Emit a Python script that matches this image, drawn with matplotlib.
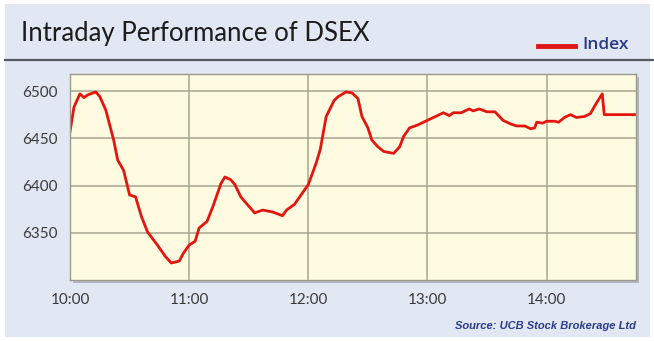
import matplotlib
matplotlib.use("Agg")
import matplotlib.pyplot as plt
from matplotlib.patches import Rectangle
import matplotlib.lines as mlines

times = ["10:00","10:02","10:05","10:07","10:09","10:13","10:15","10:18","10:22","10:24",
         "10:27","10:30","10:33","10:36","10:39","10:44","10:48","10:51","10:55","10:57",
         "11:00","11:03","11:05","11:09","11:12","11:16","11:18","11:21","11:23","11:26",
         "11:28","11:33","11:37","11:42","11:47","11:49","11:53","11:57","12:00","12:04",
         "12:06","12:09","12:13","12:15","12:19","12:22","12:25","12:27","12:30","12:32",
         "12:35","12:38","12:43","12:46","12:48","12:51","12:55","13:00","13:04","13:08",
         "13:11","13:13","13:17","13:21","13:23","13:26","13:30","13:34","13:38","13:42",
         "13:45","13:49","13:52","13:54","13:55","13:58","14:00","14:04","14:06","14:09",
         "14:12","14:15","14:19","14:22","14:25","14:28","14:29","14:45"]
index_values = [6457,6483,6497,6493,6496,6499,6494,6480,6448,6427,
                6416,6390,6388,6367,6351,6337,6325,6318,6320,6328,
                6337,6341,6355,6362,6378,6402,6409,6406,6401,6388,
                6383,6371,6374,6372,6368,6374,6380,6392,6401,6424,
                6438,6473,6490,6494,6499,6498,6492,6473,6461,6448,
                6441,6436,6434,6441,6452,6461,6464,6469,6473,6477,
                6474,6477,6477,6481,6479,6481,6478,6478,6469,6465,
                6463,6463,6460,6461,6467,6466,6468,6468,6467,6472,
                6475,6472,6473,6476,6487,6497,6475,6475]
y_ticks = [6350, 6400, 6450, 6500]
x_tick_labels = ["10:00", "11:00", "12:00", "13:00", "14:00"]

def to_min(t):
    h, m = t.split(":")
    return (int(h) - 10) * 60 + int(m)

xs = [to_min(t) for t in times]
xt = [to_min(t) for t in x_tick_labels]

W, H = 654, 341
fig = plt.figure(figsize=(W/100, H/100), dpi=100)
fig.patch.set_facecolor("white")

# background panel
fig.patches.append(Rectangle((5/W, 4/H), 645/W, 333/H, transform=fig.transFigure,
                             facecolor="#e1e7f3", edgecolor="none", zorder=0))
# title separator
fig.lines.append(mlines.Line2D([5/W, 1.0], [1-60/H, 1-60/H], transform=fig.transFigure,
                               color="#555a60", lw=1.6))
fig.text(21/W, 1-34/H, "Intraday Performance of DSEX", fontsize=18.5,
         color="#1c1c1c", va="center", ha="left", family="Lato")
# legend
fig.lines.append(mlines.Line2D([538/W, 575/W], [1-46/H, 1-46/H], transform=fig.transFigure,
                               color="#e01515", lw=3.5))
fig.text(582/W, 1-45/H, "Index", fontsize=12.5, color="#2b3a80", fontweight="semibold",
         va="center", ha="left", family="Open Sans")

ax_l, ax_r, ax_t, ax_b = 70, 636, 74, 280
# shadow
fig.patches.append(Rectangle(((ax_l+3)/W, 1-(ax_b+3)/H), (ax_r-ax_l)/W, (ax_b-ax_t)/H,
                             transform=fig.transFigure, facecolor="#9ea3ab",
                             edgecolor="none", zorder=1, alpha=0.7))
ax = fig.add_axes([ax_l/W, 1-ax_b/H, (ax_r-ax_l)/W, (ax_b-ax_t)/H])
ax.set_zorder(2)
ax.set_facecolor("#fffbe0")
ax.plot(xs, index_values, color="#e3150f", lw=2.0, solid_joinstyle="round")
ax.set_xlim(0, 285)
ax.set_ylim(6300, 6518)
ax.set_yticks(y_ticks)
ax.set_xticks(xt)
ax.set_xticklabels(x_tick_labels)
ax.grid(True, color="#a8a490", lw=1.1)
ax.set_axisbelow(True)
for s in ax.spines.values():
    s.set_color("#9a9a90")
    s.set_linewidth(1.0)
ax.tick_params(length=0, labelsize=11, colors="#3a3a3a", pad=9)
for lab in ax.get_xticklabels() + ax.get_yticklabels():
    lab.set_family("Lato")

fig.text(636/W, 1-326/H, "Source: UCB Stock Brokerage Ltd", fontsize=8,
         color="#2b3c8c", fontweight="bold", style="italic", ha="right", va="center",
         family="Liberation Sans")

fig.savefig("out.png", dpi=100, facecolor=fig.get_facecolor())
